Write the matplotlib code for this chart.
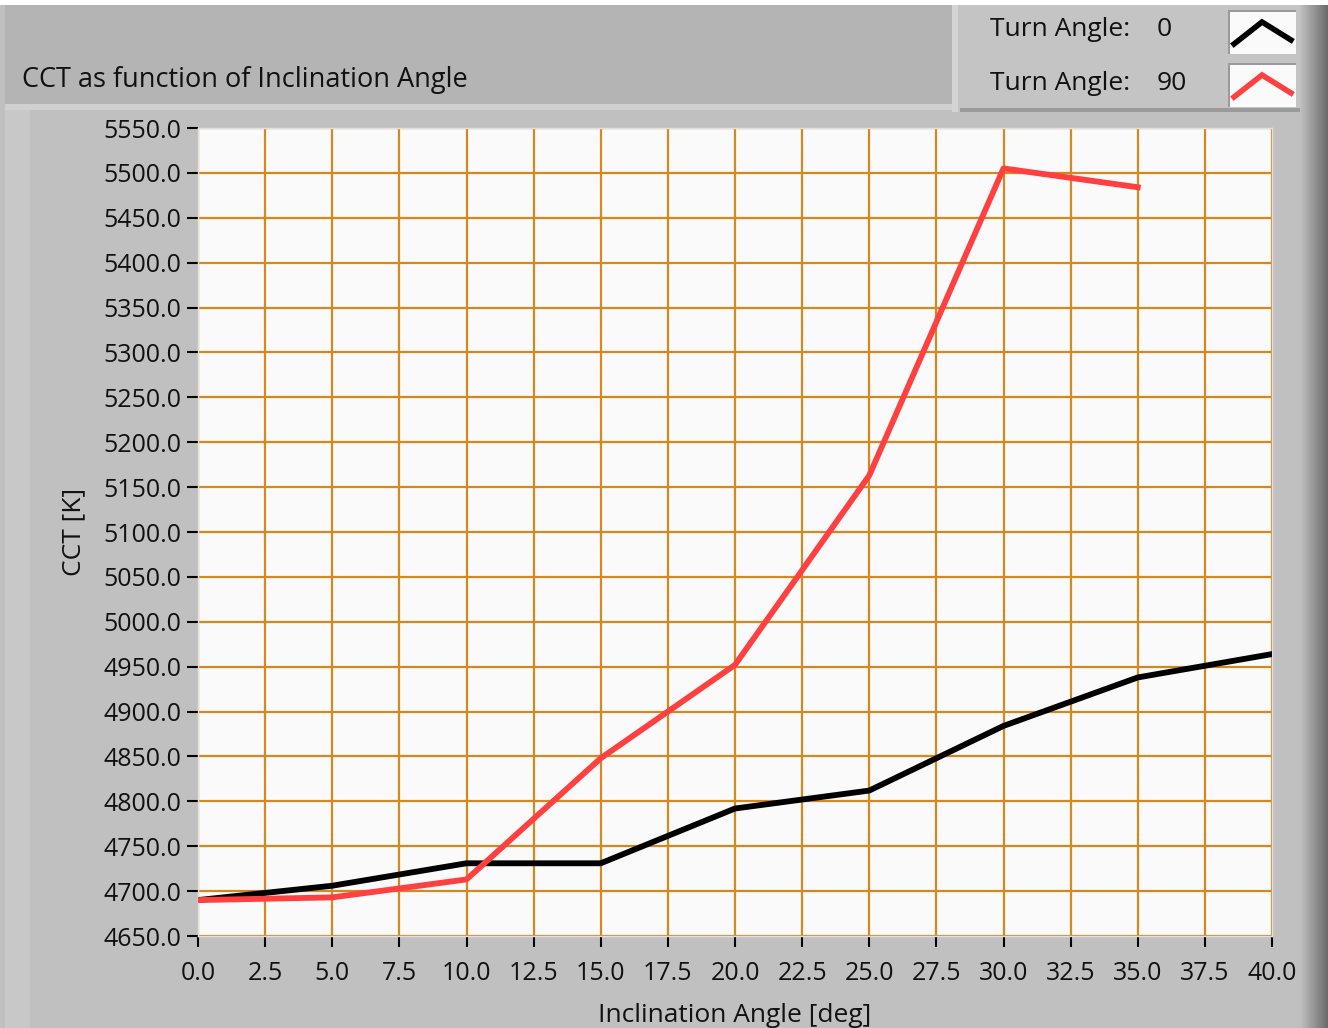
import matplotlib
matplotlib.use("Agg")
from matplotlib import pyplot as plt
from matplotlib.patches import Rectangle
from matplotlib.lines import Line2D
import numpy as np

# data
angle_0 = [0, 5, 10, 15, 20, 25, 30, 35, 40]
cct_0 = [4690, 4706, 4731, 4731, 4792, 4812, 4884, 4938, 4964]
angle_90 = [0, 5, 10, 15, 20, 25, 30, 35]
cct_90 = [4690, 4693, 4713, 4848, 4952, 5163, 5505, 5484]
legend_names = ["Turn Angle:", "Turn Angle:"]
legend_values = ["0", "90"]
line_colors = ["#000000", "#ff4040"]

W, H = 1328, 1028
FONT = "Open Sans"
TXT = "#111111"
GRID = "#d4891e"


def px(x, y):
    # pixel coords (top-left origin) -> figure fraction
    return x / W, 1 - y / H


def rect(fig, x0, y0, x1, y1, color, z=-10):
    fx, fy = px(x0, y1)
    fig.patches.append(Rectangle((fx, fy), (x1 - x0) / W, (y1 - y0) / H,
                                 transform=fig.transFigure, color=color,
                                 zorder=z, linewidth=0))


fig = plt.figure(figsize=(W / 100, H / 100), dpi=100)
fig.patch.set_facecolor("#ffffff")

# panel backgrounds
rect(fig, 0, 5, W, H, "#c0c0c0")
rect(fig, 5, 5, 952, 104, "#b4b4b4")
rect(fig, 5, 104, 1300, 110, "#d0d0d0")
rect(fig, 5, 110, 30, H, "#c8c8c8")
rect(fig, 952, 5, 1312, 112, "#c4c4c4")
rect(fig, 960, 108, 1312, 112, "#9a9a9a")
rect(fig, 952, 5, 958, 112, "#d4d4d4")
# right-hand shadow
for i, c in enumerate(np.linspace(0.75, 0.42, 28)):
    rect(fig, 1300 + i, 5, 1301 + i, H, str(c))

# legend glyph boxes
for k, (yb, col) in enumerate([(10, line_colors[0]), (63, line_colors[1])]):
    rect(fig, 1228, yb, 1296, yb + 44, "#9a9a9a", z=-5)
    rect(fig, 1230, yb + 2, 1296, yb + 44, "#fafafa", z=-4)
    xs = [1234, 1262, 1291]
    ys = [yb + 34, yb + 12, yb + 30]
    fxy = [px(a, b) for a, b in zip(xs, ys)]
    fig.lines.append(Line2D([p[0] for p in fxy], [p[1] for p in fxy],
                            transform=fig.transFigure, color=col, lw=4.0,
                            solid_joinstyle="miter", zorder=2))
    fig.text(*px(990, 30 + 53 * k), legend_names[k], fontsize=19,
             family=FONT, color=TXT, va="center", ha="left")
    fig.text(*px(1157, 30 + 53 * k), legend_values[k], fontsize=19,
             family=FONT, color=TXT, va="center", ha="left")

fig.text(*px(22, 80), "CCT as function of Inclination Angle", fontsize=19.5,
         family=FONT, color=TXT, va="center", ha="left")

ax = fig.add_axes([198 / W, 1 - 936 / H, (1272 - 198) / W, (936 - 128) / H])
ax.set_facecolor("#fafafa")
ax.plot(angle_0, cct_0, color=line_colors[0], lw=4.2, zorder=3)
ax.plot(angle_90, cct_90, color=line_colors[1], lw=4.2, zorder=3)

ax.set_xlim(0, 40)
ax.set_ylim(4650, 5550)
ax.set_xticks(np.arange(0, 40.1, 2.5))
ax.set_yticks(np.arange(4650, 5550.1, 50))
ax.xaxis.set_major_formatter(matplotlib.ticker.FormatStrFormatter("%.1f"))
ax.yaxis.set_major_formatter(matplotlib.ticker.FormatStrFormatter("%.1f"))
ax.grid(True, color=GRID, lw=1.6)
ax.set_axisbelow(True)

for side in ["top", "right", "bottom", "left"]:
    ax.spines[side].set_color("#e0e0e0")
    ax.spines[side].set_linewidth(1.0)
ax.tick_params(axis="both", direction="out", length=8, width=1.5,
               color="#000000", labelsize=18, labelcolor=TXT)
ax.tick_params(axis="y", pad=4)
ax.tick_params(axis="x", pad=10)
for lab in ax.get_xticklabels() + ax.get_yticklabels():
    lab.set_family(FONT)

ax.set_xlabel("Inclination Angle [deg]", fontsize=19, family=FONT,
              color=TXT, labelpad=12)
ax.set_ylabel("CCT [K]", fontsize=19, family=FONT, color=TXT, labelpad=12)

fig.savefig("out.png", dpi=100)
